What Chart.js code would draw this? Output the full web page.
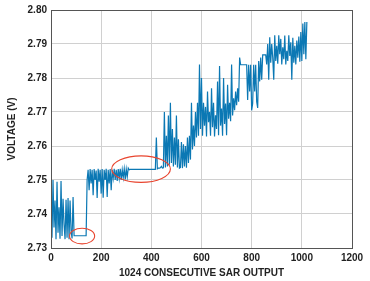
<!DOCTYPE html>
<html>
<head>
<meta charset="utf-8">
<script src="https://cdn.jsdelivr.net/npm/chart.js@4.4.1/dist/chart.umd.min.js"></script>
<style>
html,body{margin:0;padding:0;background:#fff;}
#wrap{width:370px;height:281px;position:relative;}
</style>
</head>
<body>
<div id="wrap"><canvas id="c" width="370" height="281"></canvas></div>
<script>
// Sample spacing (every 4th of the 1024 consecutive SAR outputs)
const sampleStep = 4;
// Voltage readings (V)
const voltage = [
2.7445,2.7330,2.7500,2.7360,2.7440,2.7326,2.7495,2.7345,2.7420,2.7327,
2.7497,2.7335,2.7445,2.7370,2.7326,2.7442,2.7330,2.7447,2.7326,2.7440,
2.7350,2.7328,2.7450,2.7336,2.7336,2.7336,2.7336,2.7336,2.7336,2.7336,
2.7336,2.7336,2.7336,2.7336,2.7336,2.7336,2.7500,2.7530,2.7470,2.7532,
2.7490,2.7530,2.7455,2.7532,2.7500,2.7528,2.7447,2.7533,2.7495,2.7530,
2.7460,2.7532,2.7448,2.7530,2.7500,2.7533,2.7450,2.7530,2.7490,2.7532,
2.7470,2.7530,2.7505,2.7533,2.7500,2.7530,2.7497,2.7532,2.7505,2.7533,
2.7500,2.7530,2.7507,2.7533,2.7502,2.7532,2.7510,2.7535,2.7530,2.7531,
2.7531,2.7531,2.7531,2.7531,2.7531,2.7531,2.7531,2.7531,2.7531,2.7531,
2.7531,2.7531,2.7531,2.7531,2.7531,2.7531,2.7531,2.7531,2.7531,2.7531,
2.7531,2.7531,2.7531,2.7531,2.7531,2.7625,2.7533,2.7535,2.7535,2.7536,
2.7540,2.7535,2.7536,2.7700,2.7537,2.7630,2.7540,2.7690,2.7545,2.7727,
2.7550,2.7650,2.7540,2.7625,2.7545,2.7690,2.7537,2.7620,2.7535,2.7537,
2.7612,2.7535,2.7605,2.7540,2.7600,2.7536,2.7625,2.7550,2.7630,2.7560,
2.7727,2.7590,2.7660,2.7600,2.7700,2.7625,2.7727,2.7630,2.7840,2.7650,
2.7800,2.7630,2.7727,2.7660,2.7715,2.7628,2.7760,2.7670,2.7700,2.7630,
2.7770,2.7655,2.7727,2.7628,2.7690,2.7650,2.7790,2.7632,2.7835,2.7660,
2.7710,2.7630,2.7800,2.7665,2.7725,2.7632,2.7780,2.7680,2.7727,2.7673,
2.7840,2.7690,2.7740,2.7705,2.7760,2.7720,2.7770,2.7730,2.7860,2.7839,
2.7839,2.7839,2.7839,2.7839,2.7839,2.7839,2.7735,2.7839,2.7760,2.7839,
2.7705,2.7725,2.7839,2.7760,2.7839,2.7730,2.7712,2.7850,2.7790,2.7860,
2.7795,2.7868,2.7868,2.7868,2.7868,2.7840,2.7900,2.7795,2.7920,2.7845,
2.7900,2.7860,2.7795,2.7926,2.7850,2.7895,2.7842,2.7926,2.7870,2.7915,
2.7840,2.7890,2.7855,2.7925,2.7840,2.7880,2.7850,2.7926,2.7865,2.7905,
2.7795,2.7918,2.7845,2.7895,2.7840,2.7910,2.7860,2.7922,2.7848,2.7935,
2.7850,2.7960,2.7870,2.7965,2.7855,2.7965
];
// Axis tick settings
const xTicks = [0,200,400,600,800,1000,1200];
const yTicks = [2.73,2.74,2.75,2.76,2.77,2.78,2.79,2.80];
// Red highlight ellipses (data units): centre x, centre y, radius x, radius y
const ellipseCx = [124, 359];
const ellipseCy = [2.7335, 2.7532];
const ellipseRx = [50, 117];
const ellipseRy = [0.0023, 0.0039];

const points = voltage.map((v,i)=>({x:i*sampleStep,y:v}));

const framePlugin = {
  id:'frame',
  afterDatasetsDraw(chart){
    const {ctx, chartArea:a, scales:{x,y}} = chart;
    ctx.save();
    ctx.strokeStyle = '#e8452f';
    ctx.lineWidth = 1.1;
    for(let i=0;i<ellipseCx.length;i++){
      const cx = x.getPixelForValue(ellipseCx[i]);
      const cy = y.getPixelForValue(ellipseCy[i]);
      const rx = Math.abs(x.getPixelForValue(ellipseCx[i]+ellipseRx[i]) - cx);
      const ry = Math.abs(y.getPixelForValue(ellipseCy[i]+ellipseRy[i]) - cy);
      ctx.beginPath();
      ctx.ellipse(cx,cy,rx,ry,0,0,Math.PI*2);
      ctx.stroke();
    }
    ctx.strokeStyle = '#555';
    ctx.lineWidth = 1;
    ctx.strokeRect(Math.round(a.left)+0.5, Math.round(a.top)+0.5, Math.round(a.right-a.left), Math.round(a.bottom-a.top));
    ctx.restore();
  }
};

const font = {family:'"Liberation Sans", Arial, sans-serif', size:10, weight:'bold'};

new Chart(document.getElementById('c'), {
  type:'line',
  data:{datasets:[{data:points, borderColor:'#0b78b4', borderWidth:1.2, pointRadius:0, tension:0, fill:false}]},
  options:{
    responsive:false, animation:false, events:[],
    layout:{padding:{top:8,right:18,left:0,bottom:0}},
    plugins:{legend:{display:false}, tooltip:{enabled:false}},
    scales:{
      x:{type:'linear', min:0, max:1200,
        afterBuildTicks(s){ s.ticks = xTicks.map(v=>({value:v})); },
        afterFit(s){ s.height = 33; },
        ticks:{font, color:'#222', padding:4, maxRotation:0, callback:v=>String(v)},
        grid:{color:'#d0d0d0', lineWidth:1, drawTicks:false},
        border:{display:false},
        title:{display:true, text:'1024 CONSECUTIVE SAR OUTPUT', font, color:'#222', padding:{top:0,bottom:2}}
      },
      y:{type:'linear', min:2.73, max:2.80,
        afterBuildTicks(s){ s.ticks = yTicks.map(v=>({value:v})); },
        afterFit(s){ s.width = 51; },
        ticks:{font, color:'#222', padding:4, callback:v=>v.toFixed(2)},
        grid:{color:'#d0d0d0', lineWidth:1, drawTicks:false},
        border:{display:false},
        title:{display:true, text:'VOLTAGE (V)', font, color:'#222', padding:{top:6,bottom:0}}
      }
    }
  },
  plugins:[framePlugin]
});
</script>
</body>
</html>
